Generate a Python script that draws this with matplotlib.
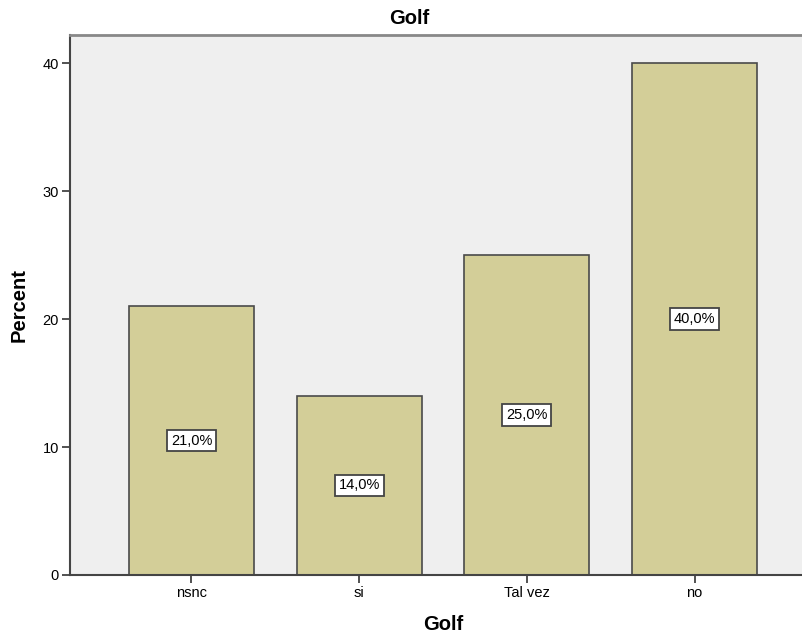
import matplotlib.pyplot as plt

# response categories and share of answers (%)
categories = ['nsnc', 'si', 'Tal vez', 'no']
percent = [21.0, 14.0, 25.0, 40.0]
yticks = [0, 10, 20, 30, 40]

plt.rcParams['font.family'] = ['Liberation Sans', 'DejaVu Sans']

fig = plt.figure(figsize=(8.02, 6.37), dpi=100)
ax = fig.add_axes([70 / 802, 62 / 637, 732 / 802, 540 / 637])
ax.set_facecolor('#efefef')

x = range(len(categories))
ax.bar(x, percent, width=0.745, color='#d3ce98', edgecolor='#4a4a4a',
       linewidth=1.2, zorder=2)

# value labels in the middle of each bar
for xi, p in zip(x, percent):
    label = '{:.1f}%'.format(p).replace('.', ',')
    ax.text(xi, p / 2, label, ha='center', va='center', fontsize=10.5, zorder=3,
            bbox=dict(boxstyle='square,pad=0.26', fc='white', ec='#444444', lw=1.3))

ax.set_xlim(-0.724, 3.64)
ax.set_ylim(0, 42.2)
ax.set_xticks(list(x))
ax.set_xticklabels(categories, fontsize=10.5)
ax.set_yticks(yticks)
ax.set_yticklabels([str(t) for t in yticks], fontsize=10.5)
ax.tick_params(axis='both', length=6, width=1.2, color='#333333', pad=2)

for side in ['left', 'bottom']:
    ax.spines[side].set_color('#444444')
    ax.spines[side].set_linewidth(1.5)
ax.spines['top'].set_color('#888888')
ax.spines['top'].set_linewidth(2)
ax.spines['right'].set_visible(False)

fig.text(409 / 802, 1 - 18.5 / 637, 'Golf', fontsize=14.5, fontweight='bold',
         ha='center', va='center')
ax.set_xlabel('Golf', fontsize=14.5, fontweight='bold', labelpad=12)
ax.xaxis.set_label_coords((443 - 70) / 732, -0.075)
ax.set_ylabel('Percent', fontsize=14.5, fontweight='bold', labelpad=10)

fig.savefig('out.png', dpi=100)
